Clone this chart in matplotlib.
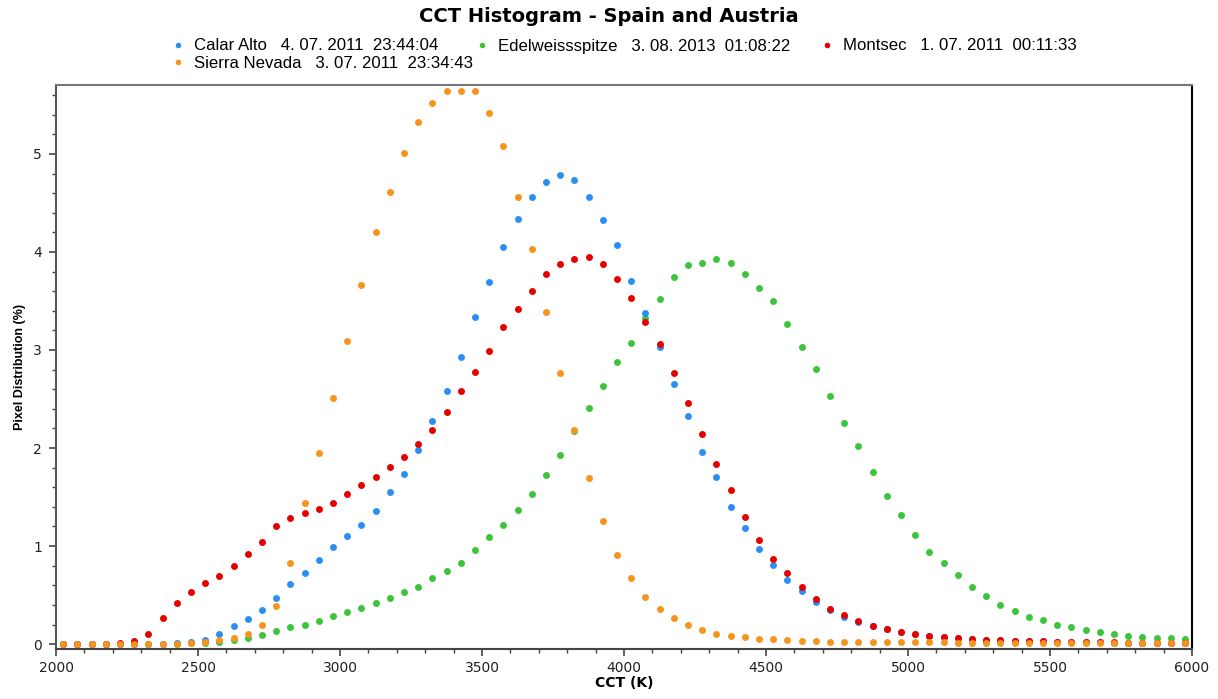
import matplotlib
matplotlib.use('Agg')
import matplotlib.pyplot as plt
from matplotlib.ticker import MultipleLocator
import numpy as np

plt.rcParams['font.family'] = ['DejaVu Sans']

# CCT bin centres (K)
cct = np.arange(2025, 6000, 50)

# Pixel distribution (%) per site
calar_alto = [0, 0, 0, 0, 0, 0, 0, 0.005, 0.01, 0.02,
              0.04, 0.10, 0.18, 0.26, 0.35, 0.47, 0.61, 0.73, 0.86, 0.99,
              1.10, 1.22, 1.36, 1.55, 1.74, 1.98, 2.28, 2.58, 2.93, 3.34,
              3.69, 4.05, 4.34, 4.56, 4.71, 4.78, 4.73, 4.56, 4.33, 4.07,
              3.70, 3.38, 3.03, 2.65, 2.33, 1.96, 1.70, 1.40, 1.18, 0.97,
              0.81, 0.65, 0.54, 0.43, 0.35, 0.28, 0.23, 0.18, 0.15, 0.12,
              0.10, 0.08, 0.07, 0.06, 0.05, 0.045, 0.04, 0.035, 0.03, 0.03,
              0.025, 0.02, 0.02, 0.02, 0.015, 0.015, 0.015, 0.01, 0.01, 0.01]
edelweiss = [0, 0, 0, 0, 0, 0, 0, 0.005, 0.005, 0.01,
             0.01, 0.02, 0.04, 0.06, 0.09, 0.13, 0.17, 0.20, 0.24, 0.29,
             0.33, 0.37, 0.42, 0.47, 0.53, 0.58, 0.67, 0.75, 0.83, 0.96,
             1.09, 1.21, 1.37, 1.53, 1.72, 1.93, 2.17, 2.41, 2.63, 2.88,
             3.07, 3.33, 3.52, 3.74, 3.87, 3.89, 3.93, 3.89, 3.78, 3.63,
             3.50, 3.27, 3.03, 2.81, 2.53, 2.26, 2.02, 1.76, 1.51, 1.32,
             1.11, 0.94, 0.83, 0.70, 0.58, 0.49, 0.40, 0.34, 0.28, 0.245,
             0.20, 0.17, 0.14, 0.12, 0.10, 0.085, 0.07, 0.065, 0.06, 0.05]
montsec = [0, 0, 0, 0.005, 0.01, 0.03, 0.10, 0.27, 0.42, 0.53,
           0.62, 0.69, 0.80, 0.92, 1.04, 1.20, 1.29, 1.34, 1.38, 1.44,
           1.53, 1.62, 1.70, 1.81, 1.91, 2.04, 2.18, 2.37, 2.58, 2.78,
           2.99, 3.23, 3.42, 3.60, 3.77, 3.88, 3.93, 3.95, 3.88, 3.72,
           3.53, 3.29, 3.06, 2.77, 2.46, 2.14, 1.84, 1.57, 1.30, 1.06,
           0.87, 0.73, 0.58, 0.46, 0.36, 0.30, 0.24, 0.18, 0.15, 0.12,
           0.10, 0.085, 0.07, 0.06, 0.055, 0.045, 0.04, 0.035, 0.03, 0.03,
           0.025, 0.02, 0.02, 0.02, 0.02, 0.015, 0.015, 0.015, 0.01, 0.01]
sierra_nevada = [0, 0, 0, 0, 0, 0, 0, 0, 0.005, 0.01,
                 0.02, 0.04, 0.06, 0.10, 0.20, 0.39, 0.83, 1.44, 1.95, 2.51,
                 3.09, 3.66, 4.20, 4.61, 5.01, 5.33, 5.52, 5.64, 5.64, 5.64,
                 5.42, 5.08, 4.56, 4.03, 3.39, 2.77, 2.18, 1.69, 1.26, 0.91,
                 0.67, 0.48, 0.36, 0.27, 0.19, 0.14, 0.10, 0.085, 0.07, 0.055,
                 0.05, 0.04, 0.035, 0.03, 0.025, 0.02, 0.02, 0.02, 0.02, 0.02,
                 0.02, 0.02, 0.02, 0.015, 0.015, 0.015, 0.015, 0.015, 0.015, 0.015,
                 0.015, 0.01, 0.01, 0.01, 0.01, 0.01, 0.01, 0.01, 0.01, 0.01]

labels = ['Calar Alto   4. 07. 2011  23:44:04',
          'Edelweissspitze   3. 08. 2013  01:08:22',
          'Montsec   1. 07. 2011  00:11:33',
          'Sierra Nevada   3. 07. 2011  23:34:43']
colors = ['#2b8ff2', '#3cc43c', '#e60000', '#f7941d']

fig = plt.figure(figsize=(12.18, 6.99), dpi=100)
ax = fig.add_axes([0.046, 0.0715, 0.9327, 0.8065])

series = [calar_alto, edelweiss, montsec, sierra_nevada]
handles = {}
for k in [1, 0, 2, 3]:
    h, = ax.plot(cct, series[k], 'o', color=colors[k], markersize=5,
                 markeredgewidth=0, label=labels[k])
    handles[k] = h

ax.set_xlim(2000, 6000)
ax.set_ylim(-0.05, 5.7)
ax.xaxis.set_major_locator(MultipleLocator(500))
ax.xaxis.set_minor_locator(MultipleLocator(100))
ax.yaxis.set_major_locator(MultipleLocator(1))
ax.yaxis.set_minor_locator(MultipleLocator(0.2))
ax.tick_params(which='major', direction='out', length=5, width=1.2,
               labelsize=10, labelcolor='#222222', color='#444444')
ax.tick_params(which='minor', direction='out', length=3, width=1, color='#444444')
ax.tick_params(axis='y', pad=5)
for s in ax.spines.values():
    s.set_linewidth(1.5)
ax.spines['top'].set_color('#777777')
ax.spines['left'].set_color('#555555')
ax.spines['bottom'].set_color('#444444')
ax.spines['right'].set_color('#000000')

ax.set_xlabel('CCT (K)', fontsize=10, fontweight='bold', labelpad=1)
ax.set_ylabel('Pixel Distribution (%)', fontsize=9, fontweight='bold', labelpad=5,
              family=['Liberation Sans', 'DejaVu Sans'])

fig.suptitle('CCT Histogram - Spain and Austria', fontsize=14,
             fontweight='bold', y=0.99)

# legend entries placed in three columns like the original
leg_kw = dict(loc='upper left', frameon=False, handlelength=0.6,
              handletextpad=0.65, labelspacing=0.15, markerscale=0.8,
              borderpad=0, borderaxespad=0,
              prop={'family': ['Liberation Sans', 'DejaVu Sans'], 'size': 12.1})
top = 1 - 38.5 / 699
fig.legend([handles[0], handles[3]], [labels[0], labels[3]],
           bbox_to_anchor=(173 / 1218, top), **leg_kw)
fig.legend([handles[1]], [labels[1]],
           bbox_to_anchor=(477 / 1218, top), **leg_kw)
fig.legend([handles[2]], [labels[2]],
           bbox_to_anchor=(822 / 1218, top), **leg_kw)

fig.savefig('out.png', dpi=100)
